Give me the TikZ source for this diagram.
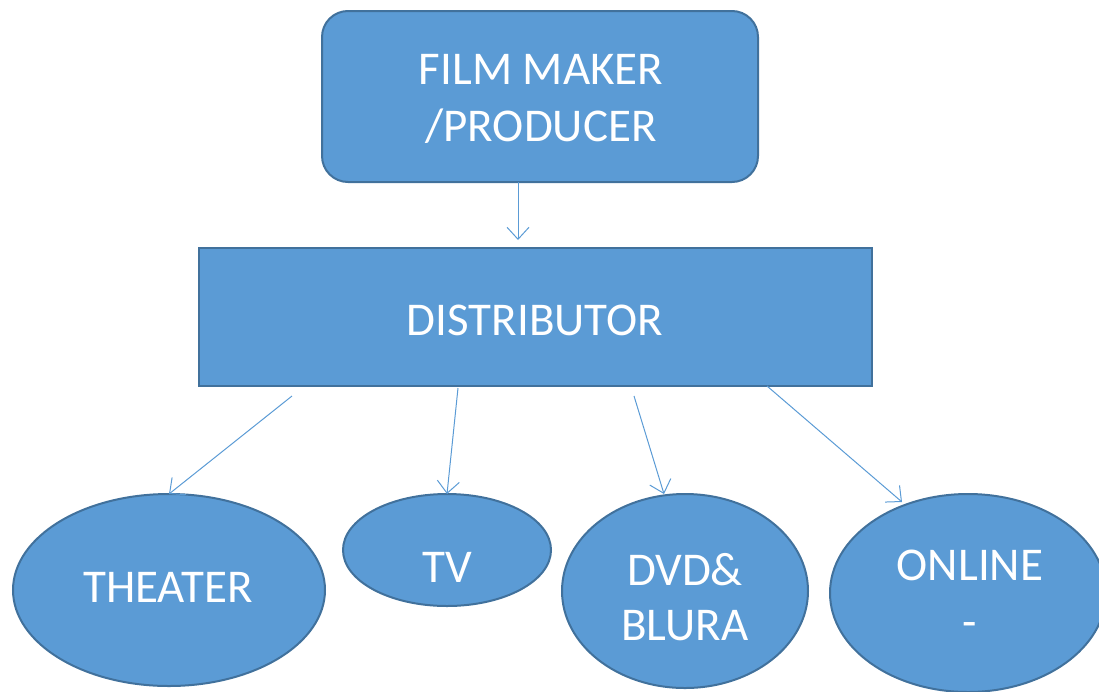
\documentclass[tikz,border=0pt]{standalone}
\usepackage{fontspec}
\setmainfont{Carlito}
\usetikzlibrary{arrows.meta}
\definecolor{boxfill}{HTML}{5B9BD5}
\definecolor{boxline}{HTML}{41719C}
\tikzset{
  shapebase/.style={fill=boxfill,draw=boxline,line width=2pt,text=white,align=center,inner sep=0pt,font=\fontsize{47}{58}\selectfont},
  label/.style={text=white,align=center,inner sep=0pt,font=\fontsize{47}{57}\selectfont},
  conn/.style={draw=boxfill,line width=1pt,-{Straight Barb[length=12pt,width=22pt,line width=1pt]}},
}
\begin{document}
\begin{tikzpicture}[x=1pt,y=-1pt]
\useasboundingbox (0,0) rectangle (1099,691);
\node[shapebase,rounded corners=26pt,minimum width=436pt,minimum height=171pt] (fm) at (540,96.5) {};
\node[label] (fmt) at (541,99) {FILM MAKER\\/PRODUCER};
\node[shapebase,rectangle,minimum width=673pt,minimum height=138pt] (dist) at (535.5,317) {};
\node[label] (distt) at (535,320) {DISTRIBUTOR};
\draw[shapebase] (169,590) ellipse [x radius=156, y radius=96];
\node[label] (th) at (168,587) {THEATER};
\draw[shapebase] (447,550) ellipse [x radius=104, y radius=56];
\node[label] (tv) at (447,567) {TV};
\draw[shapebase] (685,591) ellipse [x radius=123, y radius=97];
\node[label,font=\fontsize{47}{55}\selectfont] (dvd) at (685,597) {DVD\&\\BLURA};
\draw[shapebase] (968,593) ellipse [x radius=138, y radius=99];
\node[label] (on) at (970,594) {ONLINE\\-};
\coordinate (fmb) at (518,182);
\coordinate (fme) at (518,240);
\draw[conn] (fmb) -- (fme);
\coordinate (a1) at (292,396); \coordinate (b1) at (169,494);
\coordinate (a2) at (458,388); \coordinate (b2) at (447,494);
\coordinate (a3) at (634,396); \coordinate (b3) at (664,494);
\coordinate (a4) at (767,386); \coordinate (b4) at (902,502);
\draw[conn] (a1) -- (b1);
\draw[conn] (a2) -- (b2);
\draw[conn] (a3) -- (b3);
\draw[conn] (a4) -- (b4);
\end{tikzpicture}
\end{document}
